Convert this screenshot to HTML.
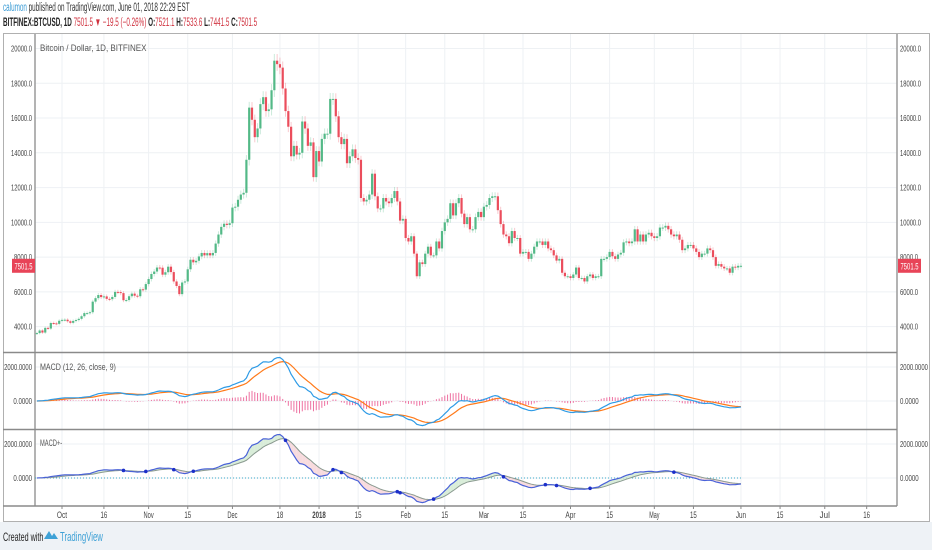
<!DOCTYPE html>
<html><head><meta charset="utf-8"><style>
html,body{margin:0;padding:0;width:932px;height:550px;overflow:hidden;background:#fff;font-family:"Liberation Sans",sans-serif;}
.sq{position:absolute;white-space:nowrap;transform:scaleX(0.55);transform-origin:0 0}
#hdr1{left:3px;top:2px;font-size:11.5px;color:#333}
#hdr2{left:3px;top:17px;font-size:11.5px;color:#222}
.r{color:#d0323f}
#foot{position:absolute;left:0;top:522px;width:932px;height:28px;background:#eef2f6}
</style></head><body>
<div id="hdr1" class="sq"><span style="color:#3a9bd5">calumon</span> published on TradingView.com, June 01, 2018 22:29 EST</div>
<div id="hdr2" class="sq"><b>BITFINEX:BTCUSD, 1D</b> <span class="r">7501.5</span> <span class="r">▼</span> <span class="r">−19.5 (−0.26%)</span> <b>O:</b><span class="r">7521.1</span> <b>H:</b><span class="r">7533.6</span> <b>L:</b><span class="r">7441.5</span> <b>C:</b><span class="r">7501.5</span></div>
<svg id="chart" width="932" height="550" style="position:absolute;left:0;top:0"></svg>
<div id="foot">
<span class="sq" style="left:3px;top:8px;font-size:12px;color:#222;transform:scaleX(0.6)">Created with</span>
<svg style="position:absolute;left:44px;top:7px" width="14" height="12"><path d="M0 10 L5 2 L8 7 L10 4 L14 10 Z" fill="#3ea1d6"/></svg>
<span class="sq" style="left:60px;top:7px;font-size:13px;color:#3ea1d6;transform:scaleX(0.6)">TradingView</span>
</div>
<script>
const startDate = "2017-09-22";
const closes = [3630,3780,3660,3930,3890,4210,4190,4160,4340,
4390,4400,4310,4220,4330,4380,4450,4600,4780,4780,4830,5440,5640,5820,5700,5740,5600,5580,5710,6000,5990,5930,5520,5530,5750,5900,5780,5750,6150,6130,6450,
6740,7030,7170,7400,7390,6990,7130,7450,7140,6600,6340,5870,6540,6600,7300,7850,7700,7790,8040,8240,8100,8230,8100,8240,8780,9300,9740,9920,9850,9950,
10850,10900,11300,11600,11700,13600,16600,15900,14900,15400,16800,17200,16400,16500,17600,19300,19100,18900,17700,16400,15500,13800,14400,13900,14000,15800,15400,14400,14600,12600,14100,
13500,14800,15100,15100,17100,17100,16100,14900,14500,14800,13400,13800,14200,13700,13600,11400,11200,11300,11600,12800,11500,10800,10800,11400,11200,11100,11400,11800,11200,10100,10200,
9100,8900,9200,8200,6900,7700,7600,8200,8600,8100,8100,8900,8500,9500,10000,10200,11100,10400,11100,11400,10500,9900,10300,9600,9600,10300,10600,10300,
10900,11000,11400,11500,11500,10700,9900,9300,9200,8800,9500,9100,9100,8200,8300,8300,7900,8200,8600,8900,8900,8700,8900,8500,8400,8100,7800,7900,7100,6900,6900,
6800,7000,7400,6800,6800,6600,6900,7000,6800,6900,6900,7900,7900,8000,8300,8050,7900,8150,8250,8850,8900,8800,8900,9600,8900,9300,8900,9300,9400,9200,
9100,9200,9700,9700,9800,9600,9300,9200,9300,9000,8400,8500,8700,8700,8500,8300,8000,8200,8200,8500,8400,8000,7500,7600,7450,7350,7350,7100,7450,7400,7500,
7501.5];
const priceTicks = [4000,6000,8000,10000,12000,14000,16000,18000,20000];
const macdTicks = [0,2000];
const xTickLabels = ["Oct","16","Nov","15","Dec","18","2018","15","Feb","15","Mar","15","Apr","15","May","15","Jun","15","Jul","16"];
const xTickDates = ["2017-10-01","2017-10-16","2017-11-01","2017-11-15","2017-12-01","2017-12-18","2018-01-01","2018-01-15","2018-02-01","2018-02-15","2018-03-01","2018-03-15","2018-04-01","2018-04-15","2018-05-01","2018-05-15","2018-06-01","2018-06-15","2018-07-01","2018-07-16"];
const lastPrice = 7501.5;

const svg=document.getElementById('chart');
const NS='http://www.w3.org/2000/svg';
function mk(tag,attrs,parent){const e=document.createElementNS(NS,tag);for(const k in attrs)e.setAttribute(k,attrs[k]);(parent||svg).appendChild(e);return e;}
function txt(x,y,s,size,anchor,fill,cw){const w=s.length*cw;let xx=x;if(anchor==='end')xx=x-w;else if(anchor==='middle')xx=x-w/2;
 const t=mk('text',{x:xx,y:y,'font-size':size,fill:fill,textLength:w,lengthAdjust:'spacingAndGlyphs'});t.textContent=s;return t;}
const L=35,R=897,T=34,P1=352.5,P2=429.5,B=506;
const day0=Date.parse("2017-10-01");
function dayIdx(s){return (Date.parse(s)-day0)/864e5;}
const x0=dayIdx(startDate);
function xDay(d){return 62+d*2.794;}
function xi(i){return xDay(x0+i);}
function yP(p){return 48.5+(20000-p)*0.017385;}
function yM(v){return 401-v*0.017;}
function yM2(v){return 478-v*0.017;}

let e=mk('rect',{x:3.5,y:33.5,width:926,height:488,fill:'none',stroke:'#b0b0b0'});

xTickDates.forEach((d,i)=>{const x=xDay(dayIdx(d));
 const g=mk('line',{x1:x,x2:x,y1:T,y2:B,stroke:'#eef1f4'});
 
 const t=txt(x,518,xTickLabels[i],9,'middle','#444',3.4);
 if(xTickLabels[i]==='2018')t.setAttribute('font-weight','bold');
 
 mk('line',{x1:x,x2:x,y1:B,y2:B+3,stroke:'#888'});
});
priceTicks.forEach(p=>{const y=yP(p);
 const g=mk('line',{x1:L,x2:R,y1:y,y2:y,stroke:'#eef1f4'});
 
 [[L-3,'end'],[R+3,'start']].forEach(([x,a])=>{const t=txt(x,y+3,p.toFixed(1),8.5,a,'#444',3);
 });
});
[yM,yM2].forEach(f=>macdTicks.forEach(v=>{const y=f(v);
 const g=mk('line',{x1:L,x2:R,y1:y,y2:y,stroke:'#eef1f4'});
 
 [[L-3,'end'],[R+3,'start']].forEach(([x,a])=>{const t=txt(x,y+3,v.toFixed(4),8.5,a,'#444',3.1);
 });
}));
[[L,T,L,B],[R,T,R,B]].forEach(a=>{const l=mk('line',{x1:a[0],y1:a[1],x2:a[2],y2:a[3],stroke:'#9a9a9a','stroke-width':1.5});});
[P1,P2,B].forEach(y=>{const l=mk('line',{x1:3,x2:R,y1:y,y2:y,stroke:'#8a8a8a','stroke-width':1.5});});
let t=txt(40,51,'Bitcoin / Dollar, 1D, BITFINEX',9.5,'start','#555',3.55);
t=txt(40,370,'MACD (12, 26, close, 9)',9.5,'start','#555',3.3);
t=txt(40,446,'MACD+-',9.5,'start','#555',3.7);

closes.forEach((c,i)=>{const o=i?closes[i-1]:c*0.99;const up=c>=o;const col=up?'#53b987':'#eb4d5c';
 const x=xi(i);const hi=Math.max(o,c)+c*0.02,lo=Math.min(o,c)-c*0.02;
 const w=mk('line',{x1:x,x2:x,y1:yP(hi),y2:yP(lo),stroke:col,'stroke-opacity':0.3});
 
 const yt=yP(Math.max(o,c)),yb=yP(Math.min(o,c));
 const r=mk('rect',{x:x-1.1,y:yt,width:2.2,height:Math.max(1,yb-yt),fill:col});
 
});
function ema(arr,n){const k=2/(n+1);const out=[];arr.forEach((v,i)=>out.push(i?out[i-1]+k*(v-out[i-1]):v));return out;}
const e12=ema(closes,12),e26=ema(closes,26);
const macd=e12.map((v,i)=>v-e26[i]);
const sig=ema(macd,9);
const hist=macd.map((v,i)=>v-sig[i]);
hist.forEach((h,i)=>{const x=xi(i);const b=mk('line',{x1:x,x2:x,y1:yM(0),y2:yM(h),stroke:'#ea4d8a','stroke-width':1,'stroke-opacity':0.8});
 });
function path(arr,f){return arr.map((v,i)=>(i?'L':'M')+xi(i).toFixed(1)+' '+f(v).toFixed(1)).join('');}
let p=mk('path',{d:path(sig,yM),fill:'none',stroke:'#ff7a1a','stroke-width':1.2});
p=mk('path',{d:path(macd,yM),fill:'none',stroke:'#2e9be6','stroke-width':1.2});

const z=mk('line',{x1:L,x2:xi(closes.length-1),y1:yM2(0),y2:yM2(0),stroke:'#3aa8c8','stroke-dasharray':'1,2'});

for(let i=1;i<macd.length;i++){
 const up=(macd[i]+macd[i-1])>=(sig[i]+sig[i-1]);
 const f=mk('polygon',{points:`${xi(i-1)},${yM2(macd[i-1])} ${xi(i)},${yM2(macd[i])} ${xi(i)},${yM2(sig[i])} ${xi(i-1)},${yM2(sig[i-1])}`,fill:up?'#cfe8cf':'#f6d2d6','fill-opacity':0.8});
 
}
p=mk('path',{d:path(sig,yM2),fill:'none',stroke:'#8a9a90','stroke-width':1});
p=mk('path',{d:path(macd,yM2),fill:'none',stroke:'#4a62d8','stroke-width':1.2});
for(let i=1;i<macd.length;i++){if((hist[i]>=0)!==(hist[i-1]>=0)){
 const c=mk('circle',{cx:xi(i),cy:yM2(macd[i]),r:1.8,fill:'#1c2fc9'});}}

const yl=yP(lastPrice);
[[12,'left'],[R+1,'right']].forEach(([x,n])=>{const r=mk('rect',{x:x,y:yl-7,width:23,height:14,fill:'#e84458'});
 
 const tt=txt(x+11.5,yl+3.5,lastPrice.toFixed(1),9,'middle','#fff',3);
 });
</script>
</body></html>
